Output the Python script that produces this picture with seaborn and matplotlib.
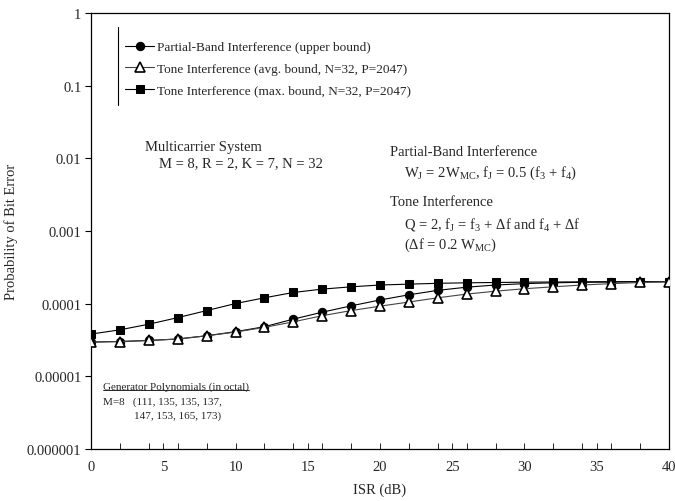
import numpy as np
import pandas as pd
import matplotlib
matplotlib.use("Agg")
import matplotlib.pyplot as plt
import seaborn as sns

isr_db = [0, 2, 4, 6, 8, 10, 12, 14, 16, 18, 20, 22, 24, 26, 28, 30, 32, 34, 36, 38, 40]
partial_band = [2.95e-5, 3.0e-5, 3.1e-5, 3.25e-5, 3.6e-5, 4.1e-5, 4.8e-5, 6.1e-5, 7.6e-5,
                9.3e-5, 1.12e-4, 1.32e-4, 1.52e-4, 1.68e-4, 1.8e-4, 1.88e-4, 1.93e-4,
                1.96e-4, 1.98e-4, 1.99e-4, 2.0e-4]
tone_avg = [2.95e-5, 3.0e-5, 3.1e-5, 3.25e-5, 3.6e-5, 4.05e-5, 4.7e-5, 5.6e-5, 6.8e-5,
            8.0e-5, 9.2e-5, 1.05e-4, 1.2e-4, 1.35e-4, 1.48e-4, 1.6e-4, 1.7e-4, 1.8e-4,
            1.88e-4, 1.95e-4, 2.0e-4]
tone_max = [3.8e-5, 4.35e-5, 5.2e-5, 6.4e-5, 8.0e-5, 1.0e-4, 1.2e-4, 1.42e-4, 1.58e-4,
            1.7e-4, 1.8e-4, 1.85e-4, 1.9e-4, 1.93e-4, 1.95e-4, 1.97e-4, 1.98e-4, 1.99e-4,
            2.0e-4, 2.0e-4, 2.0e-4]
series_labels = ["Partial-Band Interference (upper bound)",
                 "Tone Interference (avg. bound, N=32, P=2047)",
                 "Tone Interference (max. bound, N=32, P=2047)"]
y_ticks = [1e-6, 1e-5, 1e-4, 1e-3, 1e-2, 1e-1, 1]
y_tick_labels = ["0.000001", "0.00001", "0.0001", "0.001", "0.01", "0.1", "1"]
x_ticks = [0, 5, 10, 15, 20, 25, 30, 35, 40]

sns.set_theme(style="white")
plt.rcParams["font.family"] = ["Liberation Serif", "DejaVu Serif"]
plt.rcParams["mathtext.fontset"] = "custom"
plt.rcParams["mathtext.rm"] = "Liberation Serif"
plt.rcParams["mathtext.it"] = "Liberation Serif:italic"

fig = plt.figure(figsize=(6.75, 5.02), dpi=100)
ax = fig.add_axes([0.135, 0.104, 0.856, 0.868])

df = pd.DataFrame({"isr": isr_db, "pb": partial_band, "ta": tone_avg, "tm": tone_max})

sns.lineplot(data=df, x="isr", y="pb", ax=ax, color="black", lw=0.8, marker="o",
             markersize=6, markerfacecolor="black", markeredgecolor="black", zorder=3)
sns.lineplot(data=df, x="isr", y="ta", ax=ax, color="#444444", lw=0.8, marker="^",
             markersize=6.5, markerfacecolor="white", markeredgecolor="black",
             markeredgewidth=1.2, zorder=4)
sns.lineplot(data=df, x="isr", y="tm", ax=ax, color="black", lw=0.8, marker="s",
             markersize=6, markerfacecolor="black", markeredgecolor="black", zorder=2)

ax.set_yscale("log")
ax.set_ylim(1e-6, 1)
ax.set_xlim(0, 40)
ax.set_yticks(y_ticks)
ax.set_yticklabels(y_tick_labels)
ax.yaxis.set_minor_locator(matplotlib.ticker.NullLocator())
ax.set_xticks(x_ticks)
ax.set_xticklabels([str(v) for v in x_ticks])
ax.set_xticks(isr_db, minor=True)
ax.tick_params(axis="y", which="major", direction="out", length=4, width=0.8,
               labelsize=10.5, color="black", left=True, pad=3)
ax.tick_params(axis="x", which="both", direction="in", length=4, width=0.6,
               labelsize=10.5, color="black", bottom=True, pad=8)
for s in ax.spines.values():
    s.set_color("black")
    s.set_linewidth(0.9)
ax.set_xlabel("ISR (dB)", fontsize=10.5, labelpad=7)
ax.set_ylabel("Probability of Bit Error", fontsize=10.5, labelpad=6)

# legend
handles = ax.get_lines()[:3]
leg = ax.legend(handles, series_labels, loc="upper left", bbox_to_anchor=(0.05, 0.948),
                frameon=False, fontsize=9.5, handlelength=2.2, handletextpad=0.2,
                labelspacing=0.7, borderaxespad=0)
ax.plot([0.047, 0.047], [0.79, 0.968], transform=ax.transAxes, color="black", lw=0.8,
        clip_on=False)

fs = 10.5
ax.text(0.093, 0.693, "Multicarrier System", transform=ax.transAxes, fontsize=fs, va="center")
ax.text(0.117, 0.657, "M = 8, R = 2, K = 7, N = 32", transform=ax.transAxes, fontsize=fs, va="center")
ax.text(0.518, 0.683, "Partial-Band Interference", transform=ax.transAxes, fontsize=fs, va="center")
ax.text(0.542, 0.635, r"W$_\mathrm{J}$ = 2W$_\mathrm{MC}$, f$_\mathrm{J}$ = 0.5 (f$_3$ + f$_4$)",
        transform=ax.transAxes, fontsize=fs, va="center")
ax.text(0.518, 0.568, "Tone Interference", transform=ax.transAxes, fontsize=fs, va="center")
ax.text(0.542, 0.518, r"Q = 2, f$_\mathrm{J}$ = f$_3$ + $\Delta$f and f$_4$ + $\Delta$f",
        transform=ax.transAxes, fontsize=fs, va="center")
ax.text(0.542, 0.469, r"($\Delta$f = 0.2 W$_\mathrm{MC}$)", transform=ax.transAxes,
        fontsize=fs, va="center")

fs2 = 8
gp = ax.text(0.021, 0.143, "Generator Polynomials (in octal)", transform=ax.transAxes,
             fontsize=fs2, va="center")
ax.text(0.021, 0.110, "M=8   (111, 135, 135, 137,", transform=ax.transAxes, fontsize=fs2, va="center")
ax.text(0.074, 0.078, "147, 153, 165, 173)", transform=ax.transAxes, fontsize=fs2, va="center")

fig.canvas.draw()
bb = gp.get_window_extent().transformed(ax.transAxes.inverted())
ax.plot([bb.x0, bb.x1], [bb.y0 + 0.002, bb.y0 + 0.002], transform=ax.transAxes,
        color="black", lw=0.6, clip_on=False)

fig.savefig("out.png", dpi=100)
